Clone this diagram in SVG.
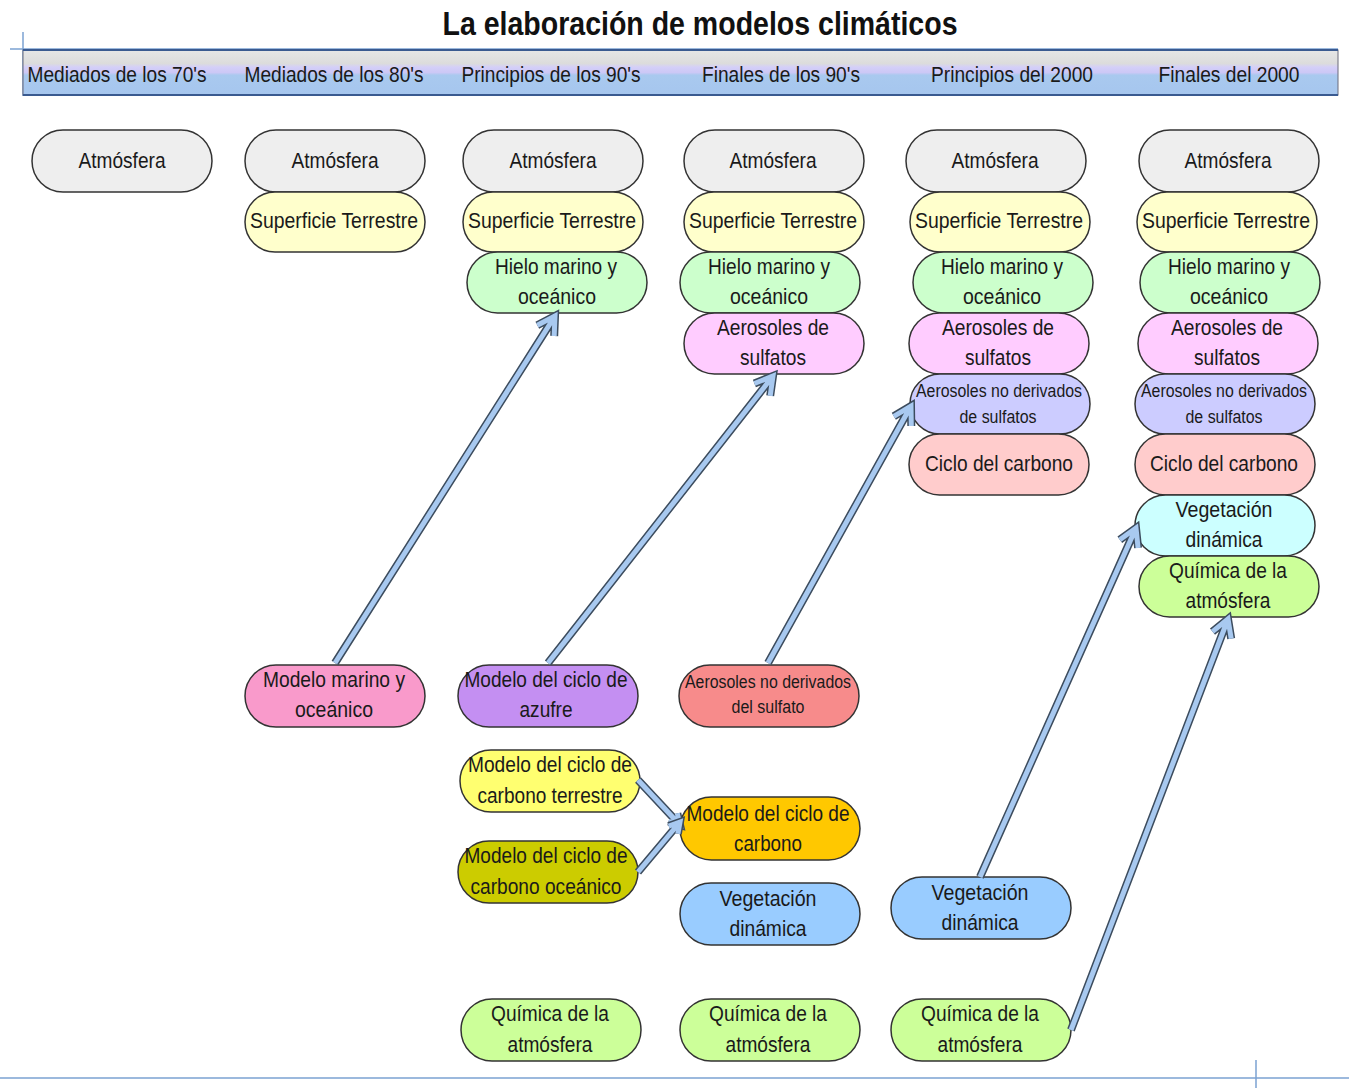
<svg xmlns="http://www.w3.org/2000/svg" xmlns:xlink="http://www.w3.org/1999/xlink" width="1349" height="1088" viewBox="0 0 1349 1088">
<style>
text{font-family:"Liberation Sans",Arial,sans-serif;fill:#1a1a1a;text-anchor:middle}
.t{font-size:21.5px}
.s{font-size:17.5px}
.h{font-size:22px}
.n{stroke:#333;stroke-width:1.5}
.atm{fill:#eeeeee}.sup{fill:#ffffcc}.hie{fill:#ccffcc}.aer{fill:#ffccff}.aen{fill:#ccccff}.cic{fill:#ffcccc}.veg{fill:#ccffff}.qui{fill:#ccff99}
.ao{fill:none;stroke:#3c4c5e;stroke-width:8;stroke-linejoin:miter;stroke-linecap:butt}
.ai{fill:none;stroke:#a8c9f0;stroke-width:5;stroke-linejoin:miter;stroke-linecap:butt}
</style>
<defs>
<linearGradient id="hg" x1="0" y1="0" x2="0" y2="1">
<stop offset="0" stop-color="#e6e6e6"/>
<stop offset="0.3" stop-color="#dcdcdc"/>
<stop offset="0.38" stop-color="#d4cff8"/>
<stop offset="0.5" stop-color="#ccc8f6"/>
<stop offset="0.56" stop-color="#a9c9ef"/>
<stop offset="1" stop-color="#a6c6ee"/>
</linearGradient>
<path id="a1" d="M335,663 L555,316 M537.3,325.3 L555,316 L554.2,336"/>
<path id="a2" d="M548,663 L773,376 M754.4,383.5 L773,376 L770.2,395.8"/>
<path id="a3" d="M768,663 L911,406 M893.8,416.3 L911,406 L911.3,426"/>
<path id="a4" d="M980,877 L1136,528 M1119.8,539.7 L1136,528 L1138.1,547.9"/>
<path id="a5" d="M1071,1030 L1228,619 M1212.5,631.6 L1228,619 L1231.2,638.7"/>
<path id="a6" d="M638,780 L680,825 M677.3,813.3 L680,825 L668.5,821.5"/>
<path id="a7" d="M638,872 L680,822 M668.7,826.1 L680,822 L677.9,833.8"/>
</defs>
<rect width="1349" height="1088" fill="#ffffff"/>

<g id="title">
<text x="700" y="35" font-size="33" font-weight="bold" textLength="515" lengthAdjust="spacingAndGlyphs" style="fill:#111">La elaboración de modelos climáticos</text>
</g>

<g id="header">
<line x1="10" y1="49" x2="1338" y2="49" stroke="#7ba2d2" stroke-width="1.5"/>
<line x1="23" y1="32" x2="23" y2="96" stroke="#7ba2d2" stroke-width="1.5"/>
<rect x="23" y="50" width="1315" height="45" fill="url(#hg)" stroke="#6a6a7a" stroke-width="1"/>
<line x1="23" y1="50" x2="1338" y2="50" stroke="#3a5a90" stroke-width="2"/>
<line x1="23" y1="95" x2="1338" y2="95" stroke="#3a5a90" stroke-width="2"/>
<text class="h" x="117" y="82" textLength="179" lengthAdjust="spacingAndGlyphs">Mediados de los 70's</text>
<text class="h" x="334" y="82" textLength="179" lengthAdjust="spacingAndGlyphs">Mediados de los 80's</text>
<text class="h" x="551" y="82" textLength="179" lengthAdjust="spacingAndGlyphs">Principios de los 90's</text>
<text class="h" x="781" y="82" textLength="158" lengthAdjust="spacingAndGlyphs">Finales de los 90's</text>
<text class="h" x="1012" y="82" textLength="162" lengthAdjust="spacingAndGlyphs">Principios del 2000</text>
<text class="h" x="1229" y="82" textLength="141" lengthAdjust="spacingAndGlyphs">Finales del 2000</text>
</g>

<g id="footer">
<line x1="0" y1="1078" x2="1349" y2="1078" stroke="#7ba2d2" stroke-width="1.5"/>
<line x1="1256" y1="1060" x2="1256" y2="1088" stroke="#7ba2d2" stroke-width="1.5"/>
</g>

<!-- Column 1 -->
<g id="c1-atm"><rect class="n atm" x="32" y="130" width="180" height="62" rx="31"/><text class="t" x="122" y="168" textLength="87" lengthAdjust="spacingAndGlyphs">Atmósfera</text></g>

<!-- Column 2 -->
<g id="c2-atm"><rect class="n atm" x="245" y="130" width="180" height="62" rx="31"/><text class="t" x="335" y="168" textLength="87" lengthAdjust="spacingAndGlyphs">Atmósfera</text></g>
<g id="c2-sup"><rect class="n sup" x="245" y="192" width="180" height="60" rx="30"/><text class="t" x="334" y="228" textLength="168" lengthAdjust="spacingAndGlyphs">Superficie Terrestre</text></g>

<!-- Column 3 -->
<g id="c3-atm"><rect class="n atm" x="463" y="130" width="180" height="62" rx="31"/><text class="t" x="553" y="168" textLength="87" lengthAdjust="spacingAndGlyphs">Atmósfera</text></g>
<g id="c3-sup"><rect class="n sup" x="463" y="192" width="180" height="60" rx="30"/><text class="t" x="552" y="228" textLength="168" lengthAdjust="spacingAndGlyphs">Superficie Terrestre</text></g>
<g id="c3-hie"><rect class="n hie" x="467" y="252" width="180" height="61" rx="30.5"/><text class="t" x="556" y="274" textLength="122" lengthAdjust="spacingAndGlyphs">Hielo marino y</text><text class="t" x="557" y="304" textLength="78" lengthAdjust="spacingAndGlyphs">oceánico</text></g>

<!-- Column 4 -->
<g id="c4-atm"><rect class="n atm" x="684" y="130" width="180" height="62" rx="31"/><text class="t" x="773" y="168" textLength="87" lengthAdjust="spacingAndGlyphs">Atmósfera</text></g>
<g id="c4-sup"><rect class="n sup" x="684" y="192" width="180" height="60" rx="30"/><text class="t" x="773" y="228" textLength="168" lengthAdjust="spacingAndGlyphs">Superficie Terrestre</text></g>
<g id="c4-hie"><rect class="n hie" x="680" y="252" width="180" height="61" rx="30.5"/><text class="t" x="769" y="274" textLength="122" lengthAdjust="spacingAndGlyphs">Hielo marino y</text><text class="t" x="769" y="304" textLength="78" lengthAdjust="spacingAndGlyphs">oceánico</text></g>
<g id="c4-aer"><rect class="n aer" x="684" y="313" width="180" height="61" rx="30.5"/><text class="t" x="773" y="335" textLength="112" lengthAdjust="spacingAndGlyphs">Aerosoles de</text><text class="t" x="773" y="365" textLength="66" lengthAdjust="spacingAndGlyphs">sulfatos</text></g>

<!-- Column 5 -->
<g id="c5-atm"><rect class="n atm" x="906" y="130" width="180" height="62" rx="31"/><text class="t" x="995" y="168" textLength="87" lengthAdjust="spacingAndGlyphs">Atmósfera</text></g>
<g id="c5-sup"><rect class="n sup" x="910" y="192" width="180" height="60" rx="30"/><text class="t" x="999" y="228" textLength="168" lengthAdjust="spacingAndGlyphs">Superficie Terrestre</text></g>
<g id="c5-hie"><rect class="n hie" x="913" y="252" width="180" height="61" rx="30.5"/><text class="t" x="1002" y="274" textLength="122" lengthAdjust="spacingAndGlyphs">Hielo marino y</text><text class="t" x="1002" y="304" textLength="78" lengthAdjust="spacingAndGlyphs">oceánico</text></g>
<g id="c5-aer"><rect class="n aer" x="909" y="313" width="180" height="61" rx="30.5"/><text class="t" x="998" y="335" textLength="112" lengthAdjust="spacingAndGlyphs">Aerosoles de</text><text class="t" x="998" y="365" textLength="66" lengthAdjust="spacingAndGlyphs">sulfatos</text></g>
<g id="c5-aen"><rect class="n aen" x="910" y="374" width="180" height="60" rx="30"/><text class="s" x="999" y="397" textLength="166" lengthAdjust="spacingAndGlyphs">Aerosoles no derivados</text><text class="s" x="998" y="423" textLength="77" lengthAdjust="spacingAndGlyphs">de sulfatos</text></g>
<g id="c5-cic"><rect class="n cic" x="909" y="434" width="180" height="61" rx="30.5"/><text class="t" x="999" y="471" textLength="148" lengthAdjust="spacingAndGlyphs">Ciclo del carbono</text></g>

<!-- Column 6 -->
<g id="c6-atm"><rect class="n atm" x="1139" y="130" width="180" height="62" rx="31"/><text class="t" x="1228" y="168" textLength="87" lengthAdjust="spacingAndGlyphs">Atmósfera</text></g>
<g id="c6-sup"><rect class="n sup" x="1137" y="192" width="180" height="60" rx="30"/><text class="t" x="1226" y="228" textLength="168" lengthAdjust="spacingAndGlyphs">Superficie Terrestre</text></g>
<g id="c6-hie"><rect class="n hie" x="1140" y="252" width="180" height="61" rx="30.5"/><text class="t" x="1229" y="274" textLength="122" lengthAdjust="spacingAndGlyphs">Hielo marino y</text><text class="t" x="1229" y="304" textLength="78" lengthAdjust="spacingAndGlyphs">oceánico</text></g>
<g id="c6-aer"><rect class="n aer" x="1138" y="313" width="180" height="61" rx="30.5"/><text class="t" x="1227" y="335" textLength="112" lengthAdjust="spacingAndGlyphs">Aerosoles de</text><text class="t" x="1227" y="365" textLength="66" lengthAdjust="spacingAndGlyphs">sulfatos</text></g>
<g id="c6-aen"><rect class="n aen" x="1135" y="374" width="180" height="60" rx="30"/><text class="s" x="1224" y="397" textLength="166" lengthAdjust="spacingAndGlyphs">Aerosoles no derivados</text><text class="s" x="1224" y="423" textLength="77" lengthAdjust="spacingAndGlyphs">de sulfatos</text></g>
<g id="c6-cic"><rect class="n cic" x="1135" y="434" width="180" height="61" rx="30.5"/><text class="t" x="1224" y="471" textLength="148" lengthAdjust="spacingAndGlyphs">Ciclo del carbono</text></g>
<g id="c6-veg"><rect class="n veg" x="1135" y="495" width="180" height="61" rx="30.5"/><text class="t" x="1224" y="517" textLength="97" lengthAdjust="spacingAndGlyphs">Vegetación</text><text class="t" x="1224" y="547" textLength="77" lengthAdjust="spacingAndGlyphs">dinámica</text></g>
<g id="c6-qui"><rect class="n qui" x="1139" y="556" width="180" height="61" rx="30.5"/><text class="t" x="1228" y="578" textLength="118" lengthAdjust="spacingAndGlyphs">Química de la</text><text class="t" x="1228" y="608" textLength="85" lengthAdjust="spacingAndGlyphs">atmósfera</text></g>

<!-- Lower nodes -->
<g id="m-marino"><rect class="n" fill="#f99acb" x="245" y="665" width="180" height="62" rx="31"/><text class="t" x="334" y="687" textLength="142" lengthAdjust="spacingAndGlyphs">Modelo marino y</text><text class="t" x="334" y="717" textLength="78" lengthAdjust="spacingAndGlyphs">oceánico</text></g>
<g id="m-azufre"><rect class="n" fill="#c48ff2" x="458" y="665" width="180" height="62" rx="31"/><text class="t" x="546" y="687" textLength="163" lengthAdjust="spacingAndGlyphs">Modelo del ciclo de</text><text class="t" x="546" y="717" textLength="53" lengthAdjust="spacingAndGlyphs">azufre</text></g>
<g id="m-aen"><rect class="n" fill="#f78b8b" x="679" y="665" width="180" height="62" rx="31"/><text class="s" x="768" y="688" textLength="166" lengthAdjust="spacingAndGlyphs">Aerosoles no derivados</text><text class="s" x="768" y="713" textLength="73" lengthAdjust="spacingAndGlyphs">del sulfato</text></g>
<g id="m-terrestre"><rect class="n" fill="#ffff70" x="460" y="750" width="180" height="62" rx="31"/><text class="t" x="550" y="772" textLength="164" lengthAdjust="spacingAndGlyphs">Modelo del ciclo de</text><text class="t" x="550" y="803" textLength="145" lengthAdjust="spacingAndGlyphs">carbono terrestre</text></g>
<g id="m-oceanico"><rect class="n" fill="#cccc00" x="458" y="841" width="180" height="62" rx="31"/><text class="t" x="546" y="863" textLength="163" lengthAdjust="spacingAndGlyphs">Modelo del ciclo de</text><text class="t" x="546" y="894" textLength="151" lengthAdjust="spacingAndGlyphs">carbono oceánico</text></g>
<g id="m-carbono"><rect class="n" fill="#ffc800" x="680" y="797" width="180" height="63" rx="31.5"/><text class="t" x="768" y="821" textLength="163" lengthAdjust="spacingAndGlyphs">Modelo del ciclo de</text><text class="t" x="768" y="851" textLength="68" lengthAdjust="spacingAndGlyphs">carbono</text></g>
<g id="m-veg4"><rect class="n" fill="#99ccff" x="680" y="883" width="180" height="62" rx="31"/><text class="t" x="768" y="906" textLength="97" lengthAdjust="spacingAndGlyphs">Vegetación</text><text class="t" x="768" y="936" textLength="77" lengthAdjust="spacingAndGlyphs">dinámica</text></g>
<g id="m-veg5"><rect class="n" fill="#99ccff" x="891" y="877" width="180" height="62" rx="31"/><text class="t" x="980" y="900" textLength="97" lengthAdjust="spacingAndGlyphs">Vegetación</text><text class="t" x="980" y="930" textLength="77" lengthAdjust="spacingAndGlyphs">dinámica</text></g>
<g id="m-qui3"><rect class="n qui" x="461" y="999" width="180" height="62" rx="31"/><text class="t" x="550" y="1021" textLength="118" lengthAdjust="spacingAndGlyphs">Química de la</text><text class="t" x="550" y="1052" textLength="85" lengthAdjust="spacingAndGlyphs">atmósfera</text></g>
<g id="m-qui4"><rect class="n qui" x="680" y="999" width="180" height="62" rx="31"/><text class="t" x="768" y="1021" textLength="118" lengthAdjust="spacingAndGlyphs">Química de la</text><text class="t" x="768" y="1052" textLength="85" lengthAdjust="spacingAndGlyphs">atmósfera</text></g>
<g id="m-qui5"><rect class="n qui" x="891" y="999" width="180" height="62" rx="31"/><text class="t" x="980" y="1021" textLength="118" lengthAdjust="spacingAndGlyphs">Química de la</text><text class="t" x="980" y="1052" textLength="85" lengthAdjust="spacingAndGlyphs">atmósfera</text></g>

<g id="connectors">
<use xlink:href="#a1" class="ao"/><use xlink:href="#a1" class="ai"/>
<use xlink:href="#a2" class="ao"/><use xlink:href="#a2" class="ai"/>
<use xlink:href="#a3" class="ao"/><use xlink:href="#a3" class="ai"/>
<use xlink:href="#a4" class="ao"/><use xlink:href="#a4" class="ai"/>
<use xlink:href="#a5" class="ao"/><use xlink:href="#a5" class="ai"/>
<use xlink:href="#a6" class="ao"/><use xlink:href="#a6" class="ai"/>
<use xlink:href="#a7" class="ao"/><use xlink:href="#a7" class="ai"/>
</g>
</svg>
